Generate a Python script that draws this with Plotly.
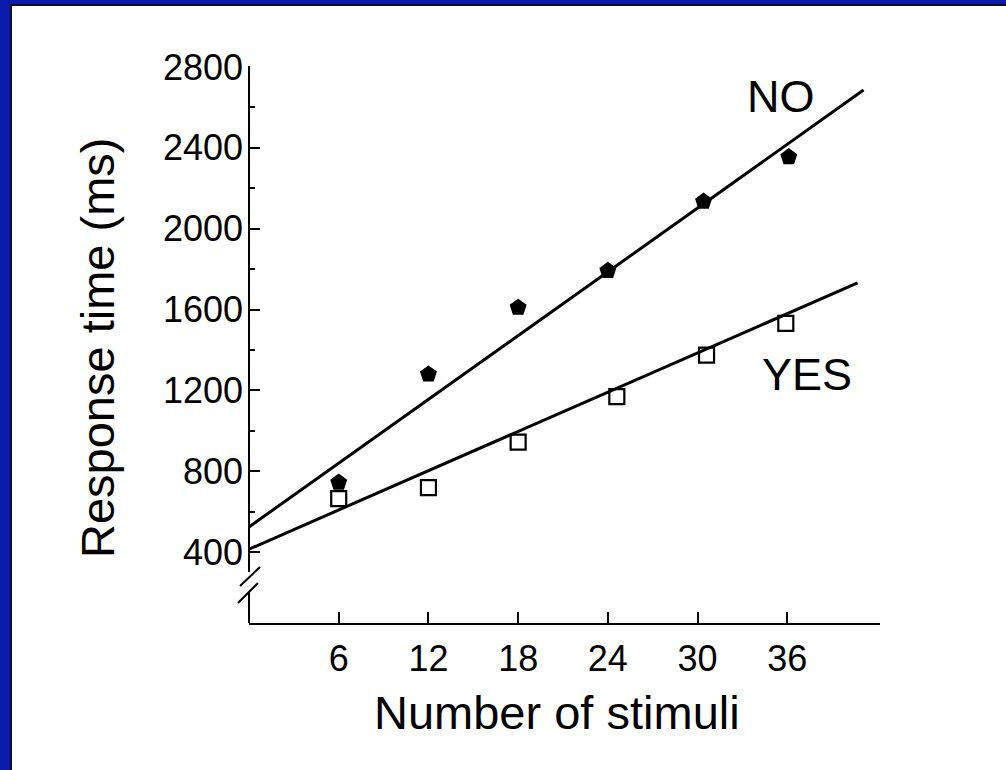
import plotly.graph_objects as go

# ---------------- data ----------------
no_x = [6, 12, 18, 24, 30.4, 36.1]
no_rt = [745, 1280, 1610, 1792, 2135, 2355]
yes_x = [6, 12, 18, 24.6, 30.6, 35.9]
yes_rt = [665, 720, 945, 1170, 1375, 1532]
fit_x = [0, 41.1]
no_fit = [525, 2686]
yes_fit_x = [0, 40.7]
yes_fit = [415, 1732]
x_ticks = [6, 12, 18, 24, 30, 36]
y_ticks = [400, 800, 1200, 1600, 2000, 2400, 2800]
y_minor = [600, 1000, 1400, 1800, 2200, 2600]

# ---------------- layout geometry (pixels) ----------------
W, H = 1006, 770
L, R, T, B = 249, 880, 67, 623
FONT = "Liberation Sans, Arial, Helvetica, sans-serif"


def px(x):
    return (x - L) / (R - L)


def py(y):
    return (B - y) / (B - T)


fig = go.Figure()

fig.add_trace(go.Scatter(x=fit_x, y=no_fit, mode="lines",
                         line=dict(color="black", width=3), showlegend=False))
fig.add_trace(go.Scatter(x=yes_fit_x, y=yes_fit, mode="lines",
                         line=dict(color="black", width=3), showlegend=False))
fig.add_trace(go.Scatter(x=no_x, y=no_rt, mode="markers",
                         marker=dict(symbol="pentagon", size=16, color="black",
                                     line=dict(color="black", width=1.5)),
                         showlegend=False, cliponaxis=False))
fig.add_trace(go.Scatter(x=yes_x, y=yes_rt, mode="markers",
                         marker=dict(symbol="square-open", size=15, color="black",
                                     line=dict(color="black", width=2.2)),
                         showlegend=False, cliponaxis=False))

shapes = []
# blue slide frame (left and top) with dark inner edge
BLUE = "#0b1ba9"
shapes.append(dict(type="rect", xref="paper", yref="paper",
                   x0=px(0), x1=px(W), y0=py(0), y1=py(4),
                   fillcolor=BLUE, line=dict(width=0), layer="above"))
shapes.append(dict(type="rect", xref="paper", yref="paper",
                   x0=px(0), x1=px(10), y0=py(0), y1=py(H),
                   fillcolor=BLUE, line=dict(width=0), layer="above"))
shapes.append(dict(type="rect", xref="paper", yref="paper",
                   x0=px(10), x1=px(W), y0=py(4), y1=py(6),
                   fillcolor="#111111", line=dict(width=0), layer="above"))
shapes.append(dict(type="rect", xref="paper", yref="paper",
                   x0=px(10), x1=px(12), y0=py(4), y1=py(H),
                   fillcolor="#111111", line=dict(width=0), layer="above"))

# broken y axis line
axline = dict(color="black", width=2)
shapes.append(dict(type="line", xref="paper", yref="paper",
                   x0=px(L), x1=px(L), y0=py(66), y1=py(572), line=axline))
shapes.append(dict(type="line", xref="paper", yref="paper",
                   x0=px(L), x1=px(L), y0=py(593), y1=py(B), line=axline))
shapes.append(dict(type="line", xref="paper", yref="paper",
                   x0=px(240), x1=px(260), y0=py(586), y1=py(567), line=axline))
shapes.append(dict(type="line", xref="paper", yref="paper",
                   x0=px(238), x1=px(258), y0=py(603), y1=py(583), line=axline))

annotations = [
    dict(text="NO", xref="paper", yref="paper", x=px(781), y=py(96),
         showarrow=False, xanchor="center", yanchor="middle",
         font=dict(family=FONT, size=45, color="black")),
    dict(text="YES", xref="paper", yref="paper", x=px(807), y=py(374),
         showarrow=False, xanchor="center", yanchor="middle",
         font=dict(family=FONT, size=45, color="black")),
    dict(text="Number of stimuli", xref="paper", yref="paper", x=px(557), y=py(712),
         showarrow=False, xanchor="center", yanchor="middle",
         font=dict(family=FONT, size=47, color="black")),
    dict(text="Response time (ms)", xref="paper", yref="paper", x=px(97), y=py(348),
         showarrow=False, xanchor="center", yanchor="middle", textangle=-90,
         font=dict(family=FONT, size=47, color="black")),
]

fig.update_layout(
    width=W, height=H,
    margin=dict(l=L, r=W - R, t=T, b=H - B, pad=0),
    paper_bgcolor="white", plot_bgcolor="white",
    font=dict(family=FONT, color="black"),
    shapes=shapes, annotations=annotations,
    xaxis=dict(range=[0, 42.2], showgrid=False, zeroline=False,
               showline=True, linecolor="black", linewidth=2,
               tickmode="array", tickvals=x_ticks,
               ticks="inside", ticklen=11, tickwidth=2, tickcolor="black",
               tickfont=dict(family=FONT, size=36, color="black"),
               ticklabelstandoff=3),
    yaxis=dict(range=[50, 2800], showgrid=False, zeroline=False,
               showline=False,
               tickmode="array", tickvals=y_ticks,
               ticks="inside", ticklen=11, tickwidth=2, tickcolor="black",
               tickfont=dict(family=FONT, size=36, color="black"),
               ticklabelstandoff=5,
               minor=dict(tickmode="array", tickvals=y_minor, ticks="inside",
                          ticklen=6, tickwidth=2, tickcolor="black",
                          showgrid=False)),
)

fig.write_html(
    "out.html",
    config={"displayModeBar": False},
    post_script="document.body.style.margin='0';document.body.style.overflow='hidden';",
)
